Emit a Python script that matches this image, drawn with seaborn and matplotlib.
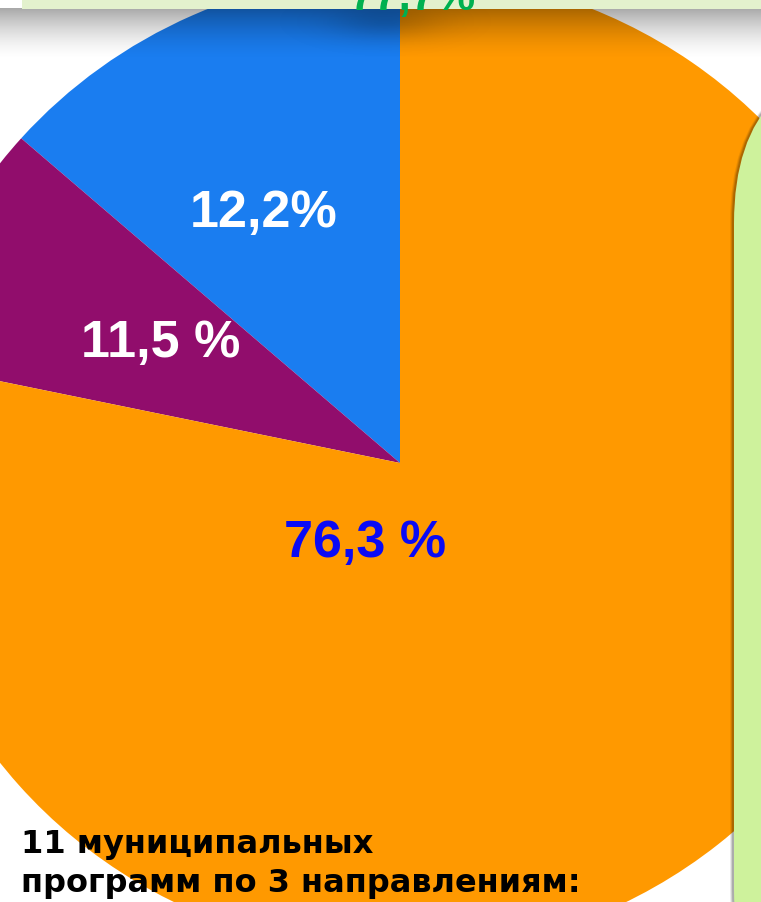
import numpy as np
import matplotlib
matplotlib.use("Agg")
import matplotlib.pyplot as plt
from matplotlib.patches import Rectangle, FancyBboxPatch
import seaborn as sns

# ---- data ----
categories = ["Направление 1", "Направление 2", "Направление 3"]
shares = [13.5, 8.2, 78.3]            # wedge sizes as drawn
label_texts = ["12,2%", "11,5 %", "76,3 %"]
top_label = "77,7%"
caption_lines = ["11 муниципальных", "программ по 3 направлениям:"]

sns.set_style("white")
plt.rcParams["font.family"] = ["Liberation Sans", "DejaVu Sans"]
palette = sns.color_palette(["#1a7df0", "#910d6c", "#ff9900"])

W, H = 761, 903
fig = plt.figure(figsize=(W / 100, H / 100), dpi=100)
fig.patch.set_facecolor("white")

# pie axes (slightly elliptical, extends beyond the figure)
cx, cy, rx, ry = 400, 464, 505, 491
ax = fig.add_axes([(cx - rx) / W, (H - cy - ry) / H, 2 * rx / W, 2 * ry / H])
ax.pie(shares, colors=palette, startangle=90, counterclock=True, radius=1,
       wedgeprops=dict(linewidth=0))
ax.set_aspect("auto")
ax.set_xlim(-1, 1)
ax.set_ylim(-1, 1)
ax.axis("off")

# overlay in pixel coordinates
ov = fig.add_axes([0, 0, 1, 1])
ov.axis("off")

# drop shadow under the top box
ys = np.arange(9, 66)
a = 0.34 * np.clip(1 - (ys - 9) / 52.0, 0, 1) ** 1.6
grad = np.zeros((len(ys), 1, 4))
grad[:, 0, 3] = a
ov.imshow(grad, extent=(0, W, 66, 9), aspect="auto", interpolation="bilinear", zorder=2)

xx, yy = np.meshgrid(np.arange(250, 530), np.arange(9, 70))
blob = np.zeros(xx.shape + (4,))
blob[..., 3] = 0.16 * np.exp(-((xx - 385) / 55.0) ** 2 - ((yy - 22) / 18.0) ** 2)
ov.imshow(blob, extent=(250, 530, 70, 9), aspect="auto", interpolation="bilinear", zorder=2)

# top box + its green text
ov.add_patch(Rectangle((22, -5), W, 14.5, facecolor="#e3f1cd", edgecolor="none", zorder=3))
ov.text(412, 10, top_label, color="#00b050", fontsize=32, fontweight="bold",
        ha="center", va="baseline", zorder=4)

# right green box with a soft shadow on its left edge
for off, al in [(4, 0.08), (3, 0.12), (2, 0.16)]:
    ov.add_patch(FancyBboxPatch((734 - off, 57), 600, 1000,
                                boxstyle="round,pad=0,rounding_size=167",
                                facecolor="black", alpha=al, edgecolor="none", zorder=3))
ov.add_patch(FancyBboxPatch((734, 57), 600, 1000, boxstyle="round,pad=0,rounding_size=167",
                            facecolor="#cef29c", edgecolor="none", zorder=3))

# slice labels
label_pos = [(264, 227), (161, 357), (365, 557)]
label_cols = ["white", "white", "#0a0af5"]
for t, (px, py), c in zip(label_texts, label_pos, label_cols):
    ov.text(px, py, t, color=c, fontsize=37.5, fontweight="bold",
            ha="center", va="baseline", zorder=5)

# caption
for t, py in zip(caption_lines, [853, 892]):
    ov.text(21, py, t, color="black", fontsize=23, fontweight="bold",
            family=["DejaVu Sans"], ha="left", va="baseline", zorder=5)

ov.set_xlim(0, W)
ov.set_ylim(H, 0)

fig.savefig("out.png", dpi=100, facecolor="white")
